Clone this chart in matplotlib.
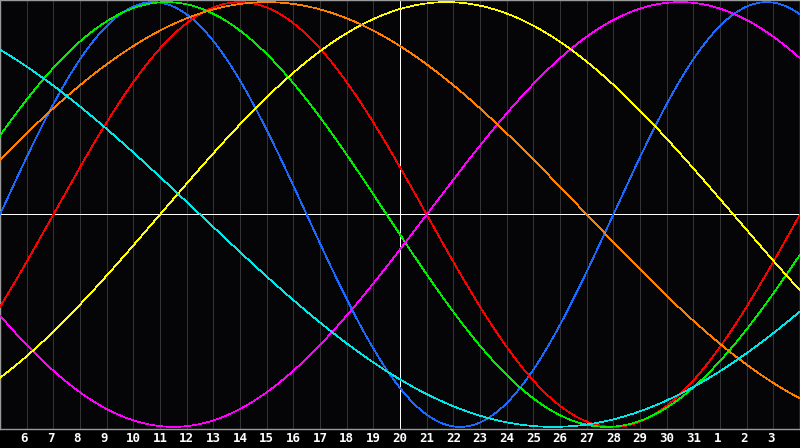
import numpy as np
import matplotlib
matplotlib.use("Agg")
import matplotlib.pyplot as plt
from matplotlib.transforms import ScaledTranslation

# ---- data ----
day_labels = ["6", "7", "8", "9", "10", "11", "12", "13", "14", "15", "16", "17",
              "18", "19", "20", "21", "22", "23", "24", "25", "26", "27", "28",
              "29", "30", "31", "1", "2", "3"]
today_index = 15            # "20" is today (white line)
n_days = 30                 # visible span in days
days_since_birth_at_left = 37490

cycle_names = ["Physical", "Emotional", "Intellectual", "Intuitive",
               "Aesthetic", "Awareness", "Spiritual"]
cycle_periods = [23, 28, 33, 38, 43, 48, 53]

# ---- style ----
cycle_colors = ["#1a6aff", "#ff0000", "#00ee00", "#ff00ff",
                "#ffff00", "#ff8000", "#00e8e8"]
bg = "#050508"
px = 0.72  # one pixel in points at dpi 100

W, H = 800, 448
fig = plt.figure(figsize=(W / 100, H / 100), dpi=100, facecolor="black")
plot_bottom = 19
ax = fig.add_axes([0, plot_bottom / H, 1, (H - plot_bottom) / H])
ax.set_facecolor(bg)
ax.set_xlim(0, n_days)
ax.set_ylim(-1.01, 1.01)

for i in range(1, n_days):
    ax.axvline(i, color="#333333", lw=px, antialiased=False, zorder=1)
ax.axhline(0, color="white", lw=px, antialiased=False, zorder=2)
ax.axvline(today_index, color="white", lw=px, antialiased=False, zorder=2)

t = np.linspace(0, n_days, 3000)
for name, p, c in zip(cycle_names, cycle_periods, cycle_colors):
    y = np.sin(2 * np.pi * (days_since_birth_at_left + t) / p)
    ax.plot(t, y, color=c, lw=0.5, antialiased=False, zorder=3)

for s in ax.spines.values():
    s.set_color("#9a9a9a")
    s.set_linewidth(1.0)
ax.set_xticks([])
ax.set_yticks([])

for i, lab in enumerate(day_labels, start=1):
    off = -2.5 / 100 if len(lab) == 1 else 0
    fig.text(i / n_days, 9.5 / H, lab, color="white", ha="center",
             va="center", fontsize=9, fontweight="bold",
             family="DejaVu Sans Mono",
             transform=fig.transFigure + ScaledTranslation(off, 0, fig.dpi_scale_trans))

fig.savefig("out.png", dpi=100, facecolor="black")
